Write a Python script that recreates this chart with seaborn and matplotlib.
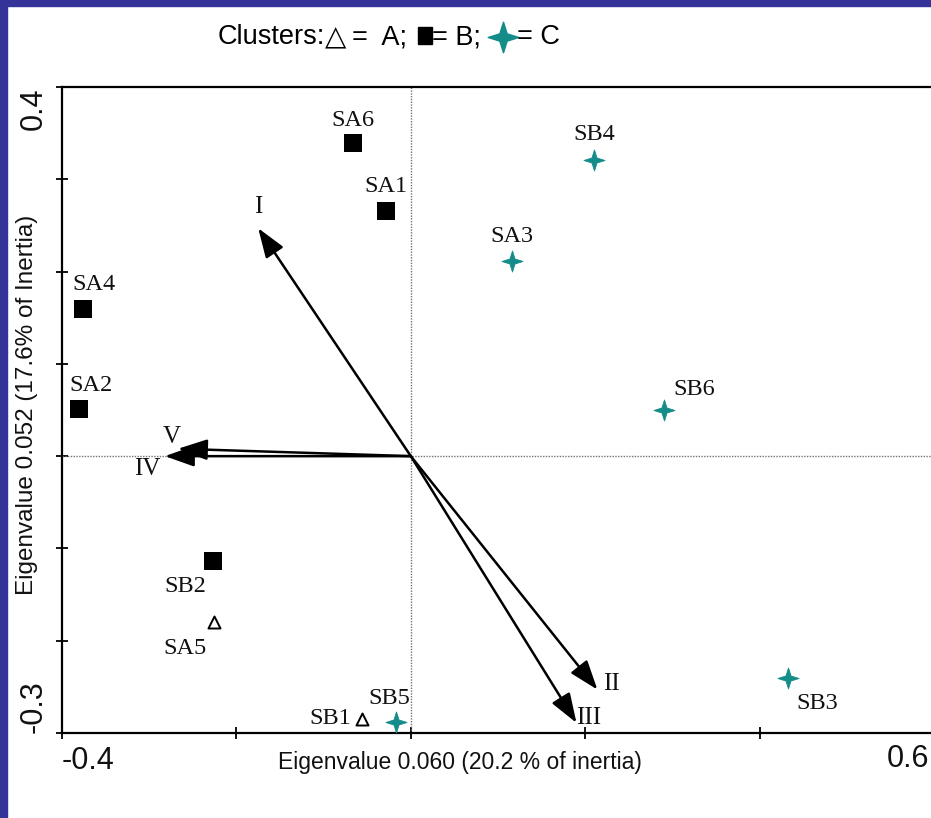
import matplotlib
matplotlib.use("Agg")
import matplotlib.pyplot as plt
import seaborn as sns
import pandas as pd
import numpy as np
from matplotlib.path import Path
from matplotlib.patches import Rectangle

# ---------------- data ----------------
sites = ["SA6", "SA1", "SA4", "SA2", "SB2", "SA5", "SB1", "SB5", "SA3", "SB4", "SB6", "SB3"]
axis1 = [-0.066, -0.029, -0.376, -0.380, -0.227, -0.226, -0.056, -0.017, 0.116, 0.210, 0.290, 0.433]
axis2 = [0.339, 0.266, 0.159, 0.051, -0.114, -0.180, -0.285, -0.288, 0.2115, 0.321, 0.050, -0.240]
cluster = ["B", "B", "B", "B", "B", "A", "A", "C", "C", "C", "C", "C"]

variables = ["I", "II", "III", "IV", "V"]
var_x = [-0.175, 0.214, 0.190, -0.282, -0.267]
var_y = [0.247, -0.253, -0.289, 0.0, 0.008]

x_ticks = [-0.4, -0.2, 0.0, 0.2, 0.4, 0.6]
x_ticklabels = ["-0.4", "", "", "", "", "0.6"]
y_ticks = [-0.3, -0.2, -0.1, 0.0, 0.1, 0.2, 0.3, 0.4]
y_ticklabels = ["-0.3", "", "", "", "", "", "", "0.4"]

# ---------------- styling ----------------
sns.set_theme(style="white")
plt.rcParams["font.family"] = ["Liberation Sans", "DejaVu Sans"]

W, H = 931, 818
fig = plt.figure(figsize=(W / 100, H / 100), dpi=100)
fig.patch.set_facecolor("white")

# purple frame
frame_col = "#333399"
fig.add_artist(Rectangle((0, 1 - 6 / H), 1, 6 / H, transform=fig.transFigure, color=frame_col, zorder=0))
fig.add_artist(Rectangle((0, 0), 7 / W, 1, transform=fig.transFigure, color=frame_col, zorder=0))

left, right, top, bottom = 62, 934, 87, 733
ax = fig.add_axes([left / W, 1 - bottom / H, (right - left) / W, (bottom - top) / H])
ax.set_facecolor("white")
ax.set_xlim(-0.4, 0.6)
ax.set_ylim(-0.3, 0.4)

star = Path([(0, 1), (0.24, 0.24), (1, 0), (0.24, -0.24), (0, -1), (-0.24, -0.24), (-1, 0), (-0.24, 0.24), (0, 1)],
            [Path.MOVETO] + [Path.LINETO] * 7 + [Path.CLOSEPOLY])
teal = "#138c8a"

df = pd.DataFrame({"site": sites, "x": axis1, "y": axis2, "cluster": cluster})

ax.axhline(0, color="0.45", lw=1.0, ls=(0, (1, 1)), zorder=1)
ax.axvline(0, color="0.45", lw=1.0, ls=(0, (1, 1)), zorder=1)

sns.scatterplot(data=df[df.cluster == "B"], x="x", y="y", marker="s", s=150, color="black",
                edgecolor="black", linewidth=0, ax=ax, zorder=3, legend=False)
sns.scatterplot(data=df[df.cluster == "A"], x="x", y="y", marker="^", s=75, facecolor="white",
                edgecolor="black", linewidth=1.4, ax=ax, zorder=3, legend=False)
sns.scatterplot(data=df[df.cluster == "C"], x="x", y="y", marker=star, s=230, color=teal,
                edgecolor=teal, linewidth=0.6, ax=ax, zorder=3, legend=False)

# point labels (offsets in pixels)
lab_off = {"SA6": (0, 23), "SA1": (0, 24), "SA4": (11, 25), "SA2": (12, 24), "SB2": (-28, -25),
           "SA5": (-29, -26), "SB1": (-32, 1), "SB5": (-7, 23), "SA3": (0, 24), "SB4": (0, 25),
           "SB6": (31, 21), "SB3": (29, -26)}
for s, xv, yv in zip(sites, axis1, axis2):
    dx, dy = lab_off[s]
    ax.annotate(s, (xv, yv), xytext=(dx * 0.72, dy * 0.72), textcoords="offset points",
                ha="center", va="center", fontsize=17.5, family=["Liberation Serif", "DejaVu Serif"],
                color="#111111", zorder=4)

# arrows
var_off = {"I": (0, 21), "II": (14, 6), "III": (12, 5), "IV": (-18, -13), "V": (-6, 12)}
for v, xv, yv in zip(variables, var_x, var_y):
    ax.annotate("", xy=(xv, yv), xytext=(0, 0),
                arrowprops=dict(arrowstyle="-|>,head_length=0.9,head_width=0.32", color="black",
                                lw=1.8, shrinkA=0, shrinkB=0, mutation_scale=20), zorder=2)
    dx, dy = var_off[v]
    ax.annotate(v, (xv, yv), xytext=(dx * 0.72, dy * 0.72), textcoords="offset points",
                ha="center", va="center", fontsize=18, family=["Liberation Serif", "DejaVu Serif"],
                color="#111111", zorder=4)

# spines & ticks
for side in ["left", "bottom", "top"]:
    ax.spines[side].set_visible(True)
    ax.spines[side].set_color("black")
    ax.spines[side].set_linewidth(1.6)
ax.spines["right"].set_visible(False)

ax.set_xticks(x_ticks)
ax.set_yticks(y_ticks)
ax.tick_params(axis="both", direction="inout", length=9, width=1.3, color="black", labelsize=22,
               labelcolor="#111111", bottom=True, left=True, top=False, right=False)
# the last x label sits at the cropped right edge, drawn right-aligned inside the figure
ax.set_xticklabels([x_ticklabels[0]] + [""] * (len(x_ticks) - 1))
xl = ax.get_xticklabels()
xl[0].set_ha("left")
fig.text(929 / W, 1 - 759 / H, x_ticklabels[-1], ha="right", va="center", fontsize=22, color="#111111")
ax.set_yticklabels(y_ticklabels, rotation=90)
yl = ax.get_yticklabels()
yl[0].set_va("bottom")
yl[-1].set_va("top")
ax.tick_params(axis="x", pad=5)
ax.tick_params(axis="y", pad=5)

ax.set_xlabel("")
ax.set_ylabel("")
fig.text(460 / W, 1 - 762 / H, "Eigenvalue 0.060 (20.2 % of inertia)", ha="center", va="center",
         fontsize=16.5, color="#111111")
fig.text(27 / W, 1 - 405 / H, "Eigenvalue 0.052 (17.6% of Inertia)", ha="center", va="center",
         rotation=90, fontsize=17.5, color="#111111")

# title with inline markers
ty = 1 - 37 / H
tfam = ["Liberation Sans", "DejaVu Sans"]
fig.text(218 / W, ty, "Clusters:", ha="left", va="center", fontsize=19.5, family=tfam, color="black")
fig.text(325 / W, ty, "\u25B3", ha="left", va="center", fontsize=20, family=["DejaVu Sans"], color="black")
fig.text(352 / W, ty, "=  A;", ha="left", va="center", fontsize=19.5, family=tfam, color="black")
fig.add_artist(Rectangle((418 / W, 1 - 44 / H), 14 / W, 17 / H, transform=fig.transFigure, color="black"))
fig.text(432 / W, ty, "= B;", ha="left", va="center", fontsize=19.5, family=tfam, color="black")
fig.add_artist(plt.Line2D([503 / W], [ty], marker=star, markersize=22, color=teal, mec=teal,
                          transform=fig.transFigure))
fig.text(517 / W, ty, "= C", ha="left", va="center", fontsize=19.5, family=tfam, color="black")

fig.savefig("out.png", dpi=100, facecolor="white")
